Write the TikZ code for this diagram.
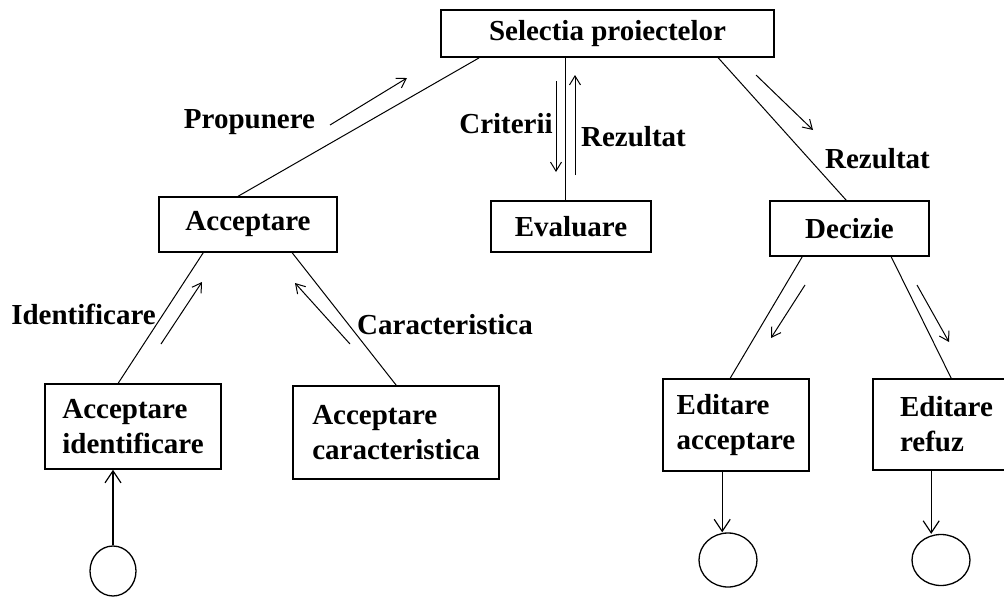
\documentclass[tikz,border=0pt]{standalone}
\usepackage{fontspec}
\setmainfont{Liberation Serif}
\usetikzlibrary{arrows.meta,calc,shapes.geometric}
\tikzset{
  box/.style={draw,line width=1.6pt,inner sep=0pt,font=\fontsize{29}{35}\selectfont\bfseries,align=left},
  lbl/.style={inner sep=0pt,font=\fontsize{29}{35}\selectfont\bfseries},
  conn/.style={line width=1pt},
  flow/.style={line width=1pt,-{Straight Barb[length=9pt,width=11pt,line width=1pt]}},
  endarrow/.style={line width=1.2pt,-{Straight Barb[length=12pt,width=16pt,line width=1.2pt]}},
  endcircle/.style={draw,ellipse,line width=1.3pt,inner sep=0pt}
}
\begin{document}
\begin{tikzpicture}[x=1pt,y=-1pt]
\useasboundingbox (0,0) rectangle (1004,597);
% boxes
\node[box,minimum width=333pt,minimum height=47pt] (sel) at (607.5,33.5) {Selectia proiectelor};
\node[box,minimum width=178pt,minimum height=55pt] (acc) at (248,224.5) {Acceptare};
\node[box,minimum width=160pt,minimum height=51pt] (eval) at (571,226.5) {Evaluare};
\node[box,minimum width=159pt,minimum height=55pt] (dec) at (849.5,228.5) {Decizie};
\node[box,minimum width=176pt,minimum height=85pt] (ai) at (133,426.5) {Acceptare\\identificare};
\node[box,minimum width=206pt,minimum height=93pt] (ac) at (396,432.5) {Acceptare\\caracteristica};
\node[box,minimum width=146pt,minimum height=92pt] (ea) at (736,425) {Editare\\acceptare};
\node[box,minimum width=147pt,minimum height=91pt] (er) at (946.5,424.5) {Editare\\refuz};
% circles
\node[endcircle,minimum width=46pt,minimum height=50pt] (c1) at (113,571) {};
\node[endcircle,minimum width=58pt,minimum height=54pt] (c2) at (728,560) {};
\node[endcircle,minimum width=58pt,minimum height=51pt] (c3) at (941,560) {};
% labels
\node[lbl] (lprop) at (249.5,122.5) {Propunere};
\node[lbl] (lcrit) at (506,124) {Criterii};
\node[lbl] (lrez1) at (633.5,136.5) {Rezultat};
\node[lbl] (lrez2) at (877.5,159) {Rezultat};
\node[lbl] (lid) at (83.5,314.5) {Identificare};
\node[lbl] (lcar) at (445,325) {Caracteristica};
% connectors
\draw[conn] ($(sel.south west)+(39,0)$) -- ($(acc.north west)+(80,0)$);
\draw[conn] ($(sel.south west)+(125,0)$) -- ($(eval.north west)+(75,0)$);
\draw[conn] ($(sel.south west)+(278,0)$) -- ($(dec.north west)+(77,0)$);
\draw[conn] ($(acc.south west)+(45,0)$) -- ($(ai.north west)+(74,0)$);
\draw[conn] ($(acc.south west)+(134,0)$) -- ($(ac.north west)+(104,0)$);
\draw[conn] ($(dec.south west)+(33,0)$) -- ($(ea.north west)+(68,0)$);
\draw[conn] ($(dec.south west)+(122,0)$) -- ($(er.north west)+(79,0)$);
\draw[endarrow] (c1.north) -- (c1.north |- ai.south);
\draw[endarrow] ($(ea.south west)+(60,0)$) coordinate (t2) -- (t2 |- c2.north);
\draw[endarrow] ($(er.south west)+(59,0)$) coordinate (t3) -- (t3 |- c3.north);
% flow arrows
\coordinate (f1a) at (330,125); \coordinate (f1b) at (407,78);
\coordinate (f2a) at (556,81); \coordinate (f2b) at (556,172);
\coordinate (f3a) at (575,175); \coordinate (f3b) at (575,75);
\coordinate (f4a) at (756,75); \coordinate (f4b) at (813,130);
\coordinate (f5a) at (161,344); \coordinate (f5b) at (202,282);
\coordinate (f6a) at (350,344); \coordinate (f6b) at (295,283);
\coordinate (f7a) at (805,285); \coordinate (f7b) at (771,338);
\coordinate (f8a) at (917,285); \coordinate (f8b) at (949,342);
\draw[flow] (f1a) -- (f1b);
\draw[flow] (f2a) -- (f2b);
\draw[flow] (f3a) -- (f3b);
\draw[flow] (f4a) -- (f4b);
\draw[flow] (f5a) -- (f5b);
\draw[flow] (f6a) -- (f6b);
\draw[flow] (f7a) -- (f7b);
\draw[flow] (f8a) -- (f8b);
\end{tikzpicture}
\end{document}
